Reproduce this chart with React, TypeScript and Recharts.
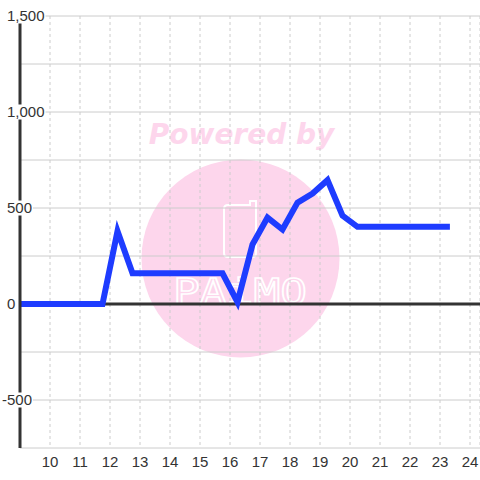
import React from 'react';
import { LineChart, Line, XAxis, YAxis, CartesianGrid, ReferenceLine } from 'recharts';

const xValues = [9, 11.75, 12.25, 12.75, 15.75, 16.25, 16.75, 17.25, 17.75, 18.25, 18.75, 19.25, 19.75, 20.25, 23.33];
const yValues = [0, 0, 380, 160, 160, 10, 310, 450, 388, 528, 575, 645, 460, 402, 402];
const xTicks = [10, 11, 12, 13, 14, 15, 16, 17, 18, 19, 20, 21, 22, 23, 24];
const yTicks = [-750, -500, -250, 0, 250, 500, 750, 1000, 1250, 1500];
const yLabelled = [-500, 0, 500, 1000, 1500];

const data = xValues.map((x, i) => ({ x, y: yValues[i] }));

const FONT = '"Liberation Sans", Arial, sans-serif';

const fmt = (v: number) => {
  const s = Math.abs(v).toLocaleString('en-US');
  return v < 0 ? '-' + s : s;
};

const charW = (c: string) => (c === ',' ? 4.17 : c === '-' ? 5 : 8.34);

const YTick = (props: any) => {
  const { y, payload } = props;
  const v = payload.value as number;
  if (!yLabelled.includes(v)) return null;
  const label = fmt(v);
  const w = label.split('').reduce((a, c) => a + charW(c), 0);
  const start = v < 0 ? 7 - 5 : 7;
  return (
    <g>
      <rect x={start - 2} y={y - 7.5} width={w + 3} height={15} fill="#fff" />
      <text x={start} y={y} dy={5.3} textAnchor="start" fontSize={15} fontFamily={FONT} fill="#333">
        {label}
      </text>
    </g>
  );
};

const Watermark = () => (
  <svg width={480} height={480} style={{ position: 'absolute', left: 0, top: 0 }}>
    <circle cx={240.5} cy={258.5} r={99} fill="#fdd6ec" />
    <text x={241.5} y={144} textAnchor="middle" fontSize={28} fontWeight="bold" fontStyle="italic"
      fontFamily='"DejaVu Sans", sans-serif' fill="#fdd6ec">Powered by</text>
    <path d="M228 205 H250 V201 H256 V253 Q256 257 252 257 H228 Q224 257 224 253 V209 Q224 205 228 205 Z"
      fill="none" stroke="#fff" strokeWidth={2} />
    <text x={240} y={304} textAnchor="middle" fontSize={36} fontFamily='"DejaVu Sans Mono", monospace'
      fill="none" stroke="#fff" strokeWidth={1.5} textLength={134} lengthAdjust="spacingAndGlyphs">PAiMO</text>
  </svg>
);

export default function App() {
  return (
    <div style={{ position: 'absolute', left: 0, top: 0, width: 480, height: 480 }}>
      <Watermark />
      <div style={{ position: 'absolute', left: 0, top: 0 }}>
        <LineChart width={480} height={480} data={data} margin={{ top: 16, right: 0, bottom: 2, left: 0 }}>
          <CartesianGrid vertical={false} stroke="#ccc" />
          <CartesianGrid horizontal={false} stroke="#ccc" strokeDasharray="3 3" />
          <XAxis
            type="number"
            dataKey="x"
            domain={[9, 24.3333]}
            allowDataOverflow
            ticks={xTicks}
            interval={0}
            height={30}
            axisLine={false}
            tickLine={false}
            tick={{ fontSize: 15, fill: '#333', fontFamily: FONT }}
          />
          <YAxis
            type="number"
            domain={[-750, 1500]}
            allowDataOverflow
            ticks={yTicks}
            interval={0}
            width={20}
            axisLine={{ stroke: '#333', strokeWidth: 3 }}
            tickLine={false}
            tick={<YTick />}
          />
          <ReferenceLine y={0} stroke="#333" strokeWidth={3} />
          <Line
            type="linear"
            dataKey="y"
            stroke="#1e3cff"
            strokeWidth={6}
            dot={false}
            activeDot={false}
            isAnimationActive={false}
          />
        </LineChart>
      </div>
    </div>
  );
}
